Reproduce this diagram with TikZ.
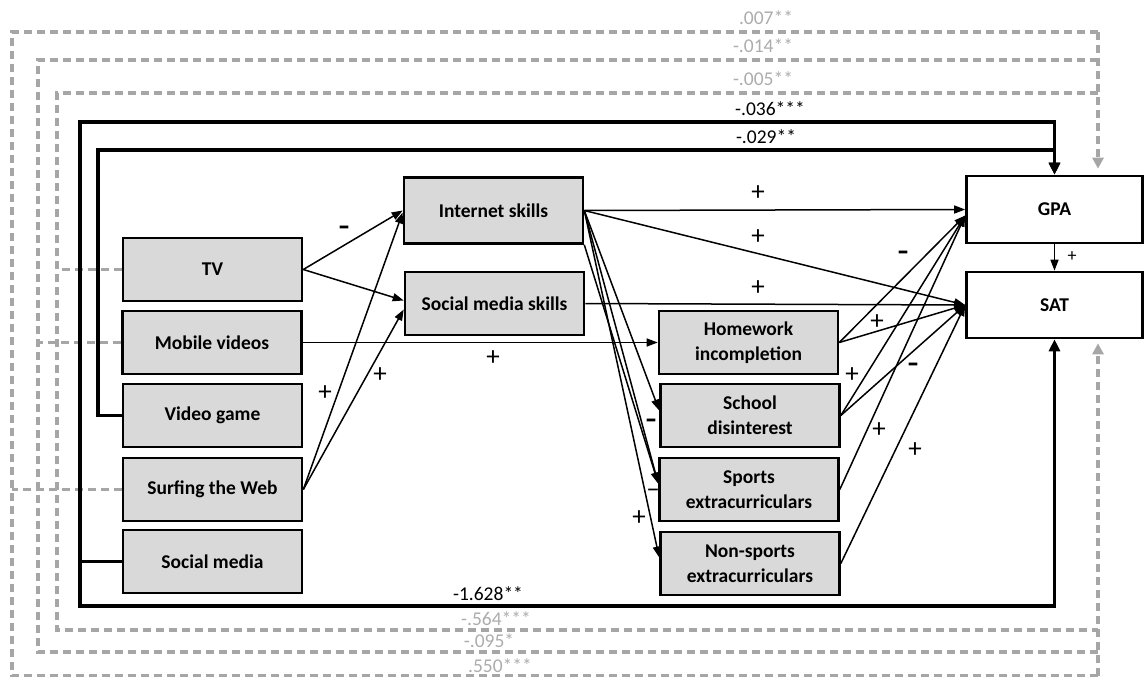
\documentclass[tikz,border=0pt]{standalone}
\usepackage{fontspec}
\setmainfont{Carlito}
\newfontfamily\dashfont{DejaVu Sans}
\usetikzlibrary{arrows.meta}
\definecolor{lgray}{RGB}{166,166,166}
\definecolor{tgray}{RGB}{172,172,172}
\definecolor{boxfill}{RGB}{217,217,217}
\begin{document}
\begin{tikzpicture}[x=1pt,y=-1pt,
  box/.style={draw=black, line width=2.6pt, fill=boxfill, minimum width=179pt, minimum height=63pt, inner sep=0pt, align=center, font=\bfseries\fontsize{19.5}{25}\selectfont},
  wbox/.style={box, fill=white},
  arr/.style={line width=1.5pt, -{Triangle[length=11pt,width=8pt]}},
  blk/.style={line width=3.6pt, -{Triangle[length=12pt,width=11pt]}},
  gd/.style={draw=lgray, line width=3.6pt, dash pattern=on 8pt off 5pt},
  gdarr/.style={gd, -{Triangle[length=11pt,width=11pt,fill=lgray]}},
  pl/.style={font=\fontsize{27}{27}\selectfont, inner sep=0pt},
  mn/.style={font=\dashfont\bfseries\fontsize{22}{22}\selectfont, inner sep=0pt},
  num/.style={font=\fontsize{19.5}{20}\selectfont, anchor=base, inner sep=0pt},
  gnum/.style={num, text=tgray}]
\useasboundingbox (0,0) rectangle (1144,677);

% boxes
\node[box] (TV) at (212.5,269.5) {TV};
\node[box] (MV) at (212,342.5) {Mobile videos};
\node[box] (VG) at (212.5,415.5) {Video game};
\node[box] (SW) at (212.5,489.5) {Surfing the Web};
\node[box] (SM) at (212.5,561.5) {Social media};
\node[box, minimum height=66pt] (IS) at (493.5,210.5) {Internet skills};
\node[box] (SMS) at (494.5,303.5) {Social media skills};
\node[box] (HI) at (748.5,342.5) {Homework\\incompletion};
\node[box] (SD) at (750,415.5) {School\\disinterest};
\node[box] (SE) at (749,489.5) {Sports\\extracurriculars};
\node[box] (NS) at (750,563.5) {Non-sports\\extracurriculars};
\node[wbox, minimum width=176pt, minimum height=67pt] (GPA) at (1054.5,209.5) {GPA};
\node[wbox, minimum width=176pt, minimum height=66pt] (SAT) at (1054.5,305) {SAT};

% gray dashed paths
\coordinate (gt) at ([xshift=43.5pt,yshift=6pt]GPA.north);
\coordinate (st) at ([xshift=43.5pt,yshift=-4pt]SAT.south);
\coordinate (r1) at (gt|-0,32);
\coordinate (r2) at (gt|-0,60);
\coordinate (r3) at (gt|-0,93);
\coordinate (b1) at (st|-0,676);
\coordinate (b2) at (st|-0,652);
\coordinate (b3) at (st|-0,630);
\draw[gdarr] (r1) -- (gt);
\draw[gd] (r1) -- (12,32) -- (12,676) -- (b1);
\draw[gd] (r2) -- (38,60) -- (38,652) -- (b2);
\draw[gd] (r3) -- (57,93) -- (57,630) -- (b3);
\draw[gdarr] (b1) -- (st);
\draw[gd] (TV.west) -- (57,269.5);
\draw[gd] (MV.west) -- (38,342.5);
\draw[gd] (SW.west) -- (12,489.5);

% thick black paths
\draw[blk] (SM.west) -| (80,122) -| (GPA.north);
\draw[blk] (SM.west) -| (80,606) -| (SAT.south);
\draw[blk] (VG.west) -| (98,150) -| (GPA.north);

% thin arrows
\draw[arr] (TV.east) -- (IS.west);
\draw[arr] (TV.east) -- ([yshift=3pt]SMS.west);
\draw[arr] (SW.east) -- ([yshift=-2pt]IS.west);
\draw[arr] (SW.east) -- ([yshift=-6pt]SMS.west);
\draw[arr] (MV.east) -- (HI.west);
\draw[arr] (IS.east) -- (GPA.west);
\draw[arr] (IS.east) -- (SAT.west);
\draw[arr] (SMS.east) -- (SAT.west);
\draw[arr] (IS.east) -- ([yshift=5pt]SD.west);
\draw[arr] (IS.east) -- ([yshift=6pt]SE.west);
\draw[arr] (IS.south east) -- ([yshift=6pt]SE.west);
\draw[arr] (IS.east) -- ([yshift=6pt]NS.west);
\draw[arr] (HI.east) -- ([yshift=-6pt]GPA.west);
\draw[arr] (HI.east) -- (SAT.west);
\draw[arr] (SD.east) -- ([yshift=-6pt]GPA.west);
\draw[arr] (SD.east) -- (SAT.west);
\draw[arr] (SE.east) -- ([yshift=-6pt]GPA.west);
\draw[arr] (NS.east) -- (SAT.west);
\draw[arr] (GPA.south) -- (SAT.north);

% coefficient labels
\node[gnum] (l1) at (766,25) {.007**};
\node[gnum] (l2) at (763,53) {-.014**};
\node[gnum] (l3) at (763,85) {-.005**};
\node[num] (l4) at (770,115) {-.036***};
\node[num] (l5) at (766,143) {-.029**};
\node[num] (l6) at (488,600) {-1.628**};
\node[gnum] (l7) at (496,625) {-.564***};
\node[gnum] (l8) at (489,647) {-.095*};
\node[gnum] (l9) at (500,672) {.550***};

% sign labels
\node[mn] (s1) at (344,230) {–};
\node[pl] (s2) at (325,393) {+};
\node[pl] (s3) at (380,375) {+};
\node[pl] (s4) at (493,358) {+};
\node[pl] (s5) at (758,193) {+};
\node[pl] (s6) at (758,237) {+};
\node[pl] (s7) at (758,288) {+};
\node[mn] (s8) at (903,255) {–};
\node[pl] (s9) at (877,322) {+};
\node[pl] (s10) at (852,375) {+};
\node[mn] (s11) at (913,367) {–};
\node[pl] (s12) at (879,430) {+};
\node[pl] (s13) at (915,450) {+};
\node[mn] (s14) at (651,423) {–};
\node[pl] (s15) at (653,493) {–};
\node[pl] (s16) at (639,518) {+};
\node[pl, font=\fontsize{18}{18}\selectfont] (s17) at (1072,257) {+};
\end{tikzpicture}
\end{document}
